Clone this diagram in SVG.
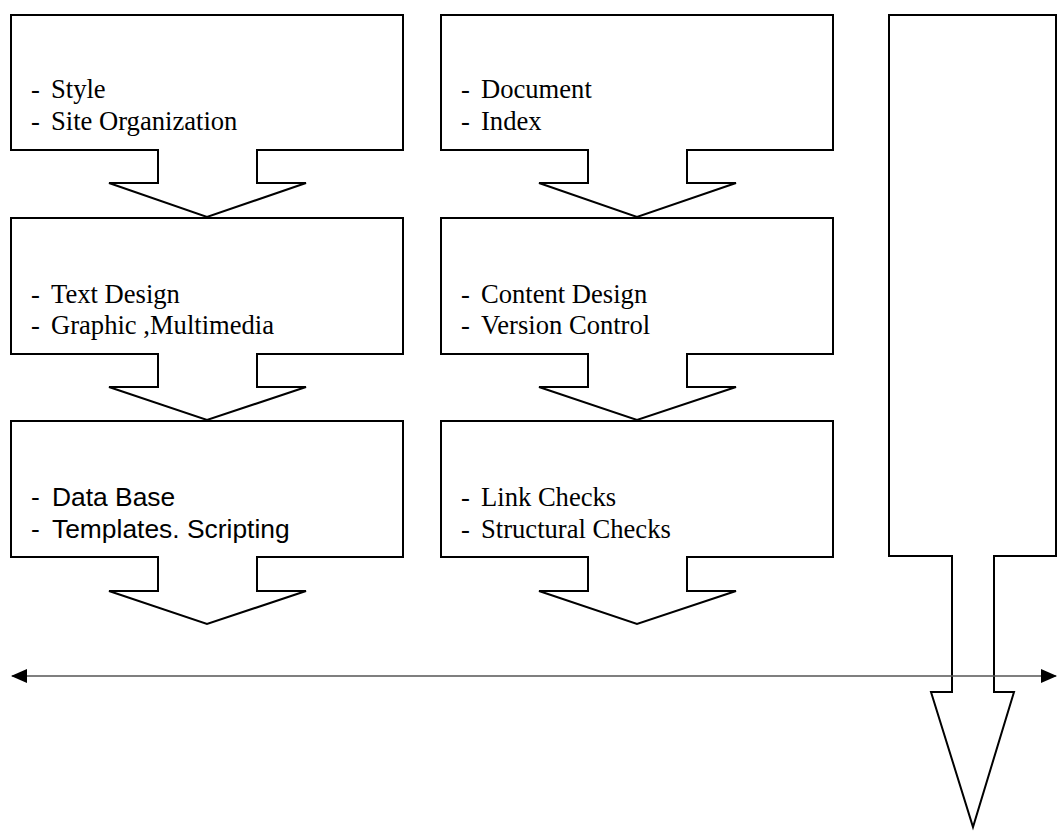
<svg xmlns="http://www.w3.org/2000/svg" width="1064" height="833" viewBox="0 0 1064 833">
<style>
.shape{fill:#fff;stroke:#000;stroke-width:2;stroke-linejoin:miter}
.serif{font-family:"Liberation Serif","Times New Roman",serif;font-size:26.6px;fill:#000}
.sans{font-family:"Liberation Sans",Arial,sans-serif;font-size:26.4px;fill:#000}
.conn{stroke:#555;stroke-width:1.3;fill:none}
</style>
<defs>
<marker id="ah" viewBox="0 0 16 14" refX="15" refY="7" markerWidth="16" markerHeight="14" markerUnits="userSpaceOnUse" orient="auto-start-reverse">
<path d="M0,0 L16,7 L0,14 Z" fill="#000"/>
</marker>
</defs>
<rect width="1064" height="833" fill="#fff"/>
<g id="n1">
<path class="shape" d="M11,15 H403 V150 H257 V183 H306 L207,217 L109,183 H158 V150 H11 Z"/>
<text class="serif" x="31" y="98">-</text><text class="serif" x="51" y="98">Style</text>
<text class="serif" x="31" y="130">-</text><text class="serif" x="51" y="130">Site Organization</text>
</g>
<g id="n2">
<path class="shape" d="M11,218 H403 V354 H257 V387 H306 L207,420 L109,387 H158 V354 H11 Z"/>
<text class="serif" x="31" y="303">-</text><text class="serif" x="51" y="303">Text Design</text>
<text class="serif" x="31" y="334">-</text><text class="serif" x="51" y="334">Graphic ,Multimedia</text>
</g>
<g id="n3">
<path class="shape" d="M11,421 H403 V557 H257 V591 H306 L207,624 L109,591 H158 V557 H11 Z"/>
<text class="sans" x="31" y="506">-</text><text class="sans" x="52" y="506">Data Base</text>
<text class="sans" x="31" y="538">-</text><text class="sans" x="52" y="538">Templates. Scripting</text>
</g>
<g id="n4">
<path class="shape" d="M441,15 H833 V150 H687 V183 H736 L637,217 L539,183 H588 V150 H441 Z"/>
<text class="serif" x="461" y="98">-</text><text class="serif" x="481" y="98">Document</text>
<text class="serif" x="461" y="130">-</text><text class="serif" x="481" y="130">Index</text>
</g>
<g id="n5">
<path class="shape" d="M441,218 H833 V354 H687 V387 H736 L637,420 L539,387 H588 V354 H441 Z"/>
<text class="serif" x="461" y="303">-</text><text class="serif" x="481" y="303">Content Design</text>
<text class="serif" x="461" y="334">-</text><text class="serif" x="481" y="334">Version Control</text>
</g>
<g id="n6">
<path class="shape" d="M441,421 H833 V557 H687 V591 H736 L637,624 L539,591 H588 V557 H441 Z"/>
<text class="serif" x="461" y="506">-</text><text class="serif" x="481" y="506">Link Checks</text>
<text class="serif" x="461" y="538">-</text><text class="serif" x="481" y="538">Structural Checks</text>
</g>
<g id="n7">
<path class="shape" d="M889,15 H1056 V556 H994 V692 H1014 L973,827 L931,692 H952 V556 H889 Z"/>
</g>
<g id="connectors">
<line class="conn" x1="12" y1="676" x2="1056" y2="676" marker-start="url(#ah)" marker-end="url(#ah)"/>
</g>
</svg>
